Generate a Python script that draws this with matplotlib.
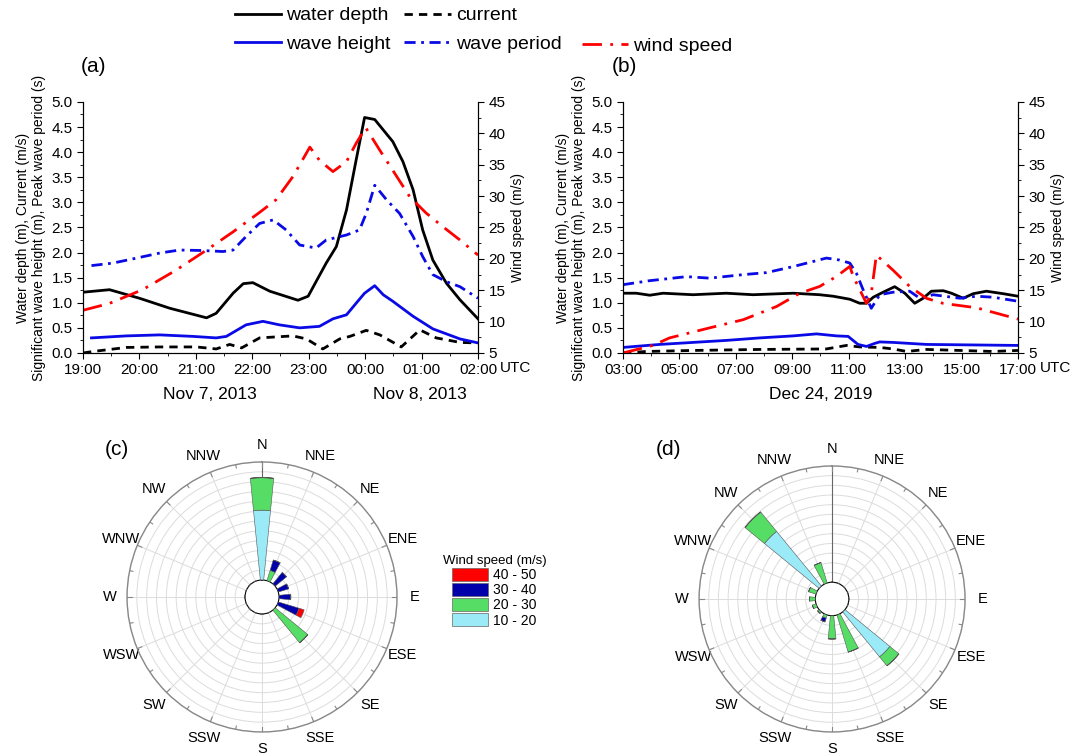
import numpy as np
import matplotlib.pyplot as plt
from matplotlib.patches import Patch
from matplotlib.lines import Line2D

plt.rcParams['font.family'] = ['Liberation Sans', 'DejaVu Sans']

# ---- panel (a): Nov 7-8 2013, hours after 19:00 ----
a_ticks = ['19:00', '20:00', '21:00', '22:00', '23:00', '00:00', '01:00', '02:00']
a_depth_t = [0, 0.47, 1.0, 1.54, 2.19, 2.36, 2.66, 2.84, 3.01, 3.31, 3.81, 3.99, 4.13, 4.31, 4.49,
             4.67, 4.84, 4.99, 5.17, 5.49, 5.67, 5.85, 6.02, 6.20, 6.44, 6.68, 7.0]
a_depth = [1.21, 1.26, 1.09, 0.89, 0.70, 0.79, 1.19, 1.38, 1.40, 1.23, 1.05, 1.13, 1.42, 1.79, 2.12,
           2.85, 3.84, 4.69, 4.65, 4.21, 3.81, 3.25, 2.45, 1.85, 1.39, 1.06, 0.68]
a_cur_t = [0, 0.18, 0.77, 1.36, 2.01, 2.36, 2.60, 2.81, 3.13, 3.72, 3.96, 4.25, 4.55, 4.73, 5.02,
           5.26, 5.64, 5.97, 6.26, 6.68, 6.97]
a_cur = [0.0, 0.03, 0.11, 0.12, 0.12, 0.08, 0.17, 0.10, 0.30, 0.34, 0.28, 0.08, 0.28, 0.33, 0.45,
         0.36, 0.12, 0.46, 0.30, 0.21, 0.20]
a_hs_t = [0.15, 0.77, 1.36, 1.95, 2.36, 2.54, 2.89, 3.19, 3.48, 3.84, 4.19, 4.43, 4.67, 4.84, 4.99,
          5.17, 5.32, 5.49, 5.85, 6.20, 6.68, 7.0]
a_hs = [0.30, 0.34, 0.36, 0.33, 0.30, 0.33, 0.56, 0.63, 0.56, 0.50, 0.53, 0.68, 0.76, 0.99, 1.19,
        1.34, 1.16, 1.03, 0.73, 0.48, 0.28, 0.20]
a_tp_t = [0.15, 0.53, 0.95, 1.36, 1.71, 2.13, 2.48, 2.66, 2.89, 3.13, 3.37, 3.60, 3.84, 4.13, 4.31,
          4.67, 4.90, 5.02, 5.17, 5.38, 5.61, 5.85, 6.02, 6.20, 6.44, 6.68, 7.0]
a_tp = [1.74, 1.79, 1.89, 1.99, 2.05, 2.04, 2.02, 2.05, 2.32, 2.58, 2.65, 2.45, 2.15, 2.09, 2.25,
        2.35, 2.45, 2.78, 3.34, 3.05, 2.78, 2.32, 1.92, 1.56, 1.42, 1.32, 1.09]
a_wind_t = [0, 0.47, 1.06, 1.65, 2.19, 2.66, 3.13, 3.42, 3.72, 4.02, 4.19, 4.43, 4.67, 4.84, 5.01,
            5.26, 5.49, 5.79, 6.08, 6.38, 6.68, 7.0]
a_wind = [11.8, 12.9, 15.1, 18.2, 21.4, 24.3, 27.4, 29.4, 33.1, 37.8, 35.7, 33.9, 35.5, 38.4, 40.9,
          37.3, 34.1, 29.9, 27.3, 25.1, 23.0, 20.6]

# ---- panel (b): Dec 24 2019, hours after 03:00 ----
b_ticks = ['03:00', '05:00', '07:00', '09:00', '11:00', '13:00', '15:00', '17:00']
b_depth_t = [0, 0.47, 0.95, 1.42, 2.48, 3.66, 4.61, 6.03, 6.97, 7.45, 8.04, 8.39, 8.63, 8.87, 9.22,
             9.63, 9.99, 10.34, 10.64, 10.93, 11.35, 11.64, 12.06, 12.41, 12.88, 13.48, 14.0]
b_depth = [1.19, 1.19, 1.15, 1.19, 1.16, 1.19, 1.16, 1.19, 1.16, 1.13, 1.07, 0.99, 0.99, 1.11, 1.21,
           1.32, 1.19, 0.99, 1.09, 1.23, 1.24, 1.19, 1.09, 1.18, 1.23, 1.18, 1.13]
b_cur_t = [0, 0.83, 2.48, 4.85, 7.21, 7.92, 8.39, 9.10, 9.57, 10.05, 10.76, 11.94, 13.12, 14.0]
b_cur = [0.0, 0.03, 0.05, 0.07, 0.08, 0.15, 0.12, 0.11, 0.08, 0.03, 0.07, 0.05, 0.03, 0.05]
b_hs_t = [0, 1.30, 2.48, 3.66, 4.85, 6.03, 6.86, 7.57, 7.98, 8.33, 8.63, 8.92, 9.10, 9.57, 10.76, 14.0]
b_hs = [0.11, 0.17, 0.21, 0.25, 0.30, 0.34, 0.38, 0.34, 0.33, 0.17, 0.13, 0.19, 0.22, 0.21, 0.17, 0.15]
b_tp_t = [0, 0.95, 2.25, 3.07, 4.26, 5.08, 6.03, 7.21, 7.68, 8.04, 8.27, 8.51, 8.80, 9.10, 9.57,
          10.16, 10.52, 10.99, 11.94, 12.53, 13.12, 14.0]
b_tp = [1.36, 1.44, 1.52, 1.49, 1.56, 1.60, 1.72, 1.89, 1.85, 1.79, 1.59, 1.26, 0.89, 1.16, 1.21,
        1.23, 1.09, 1.16, 1.09, 1.13, 1.11, 1.03]
b_wind_t = [0, 1.06, 1.65, 3.07, 4.26, 5.44, 6.26, 6.97, 7.57, 8.04, 8.16, 8.39, 8.63, 8.80, 8.98,
            9.57, 10.16, 10.76, 11.35, 12.53, 14.0]
b_wind = [5.0, 6.2, 7.4, 9.0, 10.3, 12.4, 14.5, 15.6, 17.2, 18.8, 17.2, 15.1, 12.9, 14.5, 20.6,
          18.2, 15.6, 13.7, 12.9, 12.2, 10.4]

# ---- wind roses ----
dirs = ['N', 'NNE', 'NE', 'ENE', 'E', 'ESE', 'SE', 'SSE',
        'S', 'SSW', 'SW', 'WSW', 'W', 'WNW', 'NW', 'NNW']
speed_classes = ['10 - 20', '20 - 30', '30 - 40', '40 - 50']
class_colors = ['#9beaf8', '#55dd66', '#0000aa', '#ff0000']
c_10_20 = [7.1, 0, 0, 0, 0, 0, 0, 0, 0, 0, 0, 0, 0, 0, 0, 0]
c_20_30 = [3.3, 1.1, 0, 0, 0, 0, 4.3, 0, 0, 0, 0, 0, 0, 0, 0, 0]
c_30_40 = [0, 1.1, 1.5, 1.1, 1.2, 2.2, 0, 0, 0, 0, 0, 0, 0, 0, 0, 0]
c_40_50 = [0, 0, 0, 0, 0, 0.55, 0, 0, 0, 0, 0, 0, 0, 0, 0, 0]
d_10_20 = [0, 0, 0, 0, 0, 0, 6.0, 0, 0, 0, 0, 0, 0, 0, 7.3, 0]
d_20_30 = [0, 0, 0, 0, 0, 0, 1.2, 4.0, 2.4, 0.35, 0.2, 0.4, 0.6, 0.8, 2.6, 2.2]
d_30_40 = [0, 0, 0, 0, 0, 0, 0, 0, 0, 0.4, 0, 0, 0, 0, 0, 0]
d_40_50 = [0] * 16

fig = plt.figure(figsize=(10.71, 7.55), dpi=100)

BLUE = '#0a0ae6'
RED = '#ff0000'
LS_CUR = (0, (3, 2.2))
LS_TP = (0, (4, 2, 1, 2))
LS_WIND = (0, (7, 3, 1, 3))


def line_panel(pos, d, ticks, step, nhours, minor_step):
    ax = fig.add_axes(pos)
    ax.plot(d[0], d[1], color='black', lw=2)
    ax.plot(d[2], d[3], color='black', lw=2, ls=LS_CUR)
    ax.plot(d[4], d[5], color=BLUE, lw=2)
    ax.plot(d[6], d[7], color=BLUE, lw=2, ls=LS_TP)
    ax.set_xlim(0, nhours)
    ax.set_ylim(0, 5)
    ax.set_xticks(np.arange(0, nhours + 0.01, step))
    ax.set_xticklabels(ticks)
    ax.set_xticks(np.arange(0, nhours + 0.01, minor_step), minor=True)
    ax.set_yticks(np.arange(0, 5.01, 0.5))
    ax.set_yticks(np.arange(0, 5.01, 0.25), minor=True)
    ax.yaxis.set_major_formatter(plt.FormatStrFormatter('%.1f'))
    ax.spines['top'].set_visible(False)
    ax.tick_params(labelsize=11, length=4, width=0.8)
    ax.tick_params(which='minor', length=2.5)
    ax.set_ylabel('Water depth (m), Current (m/s)\nSignificant wave height (m), Peak wave period (s)',
                  fontsize=10, labelpad=4)
    ax2 = ax.twinx()
    ax2.plot(d[8], d[9], color=RED, lw=2, ls=LS_WIND)
    ax2.set_ylim(5, 45)
    ax2.set_yticks(np.arange(5, 46, 5))
    ax2.set_yticks(np.arange(5, 46, 2.5), minor=True)
    ax2.spines['top'].set_visible(False)
    ax2.tick_params(labelsize=11, length=4, width=0.8)
    ax2.tick_params(which='minor', length=2.5)
    ax2.set_ylabel('Wind speed (m/s)', fontsize=10, labelpad=4)
    ax.annotate('UTC', xy=(1, 0), xycoords='axes fraction', xytext=(16, -6),
                textcoords='offset points', ha='left', va='top', fontsize=11)
    return ax


axa = line_panel([0.0775, 0.5325, 0.3688, 0.3325],
                 [a_depth_t, a_depth, a_cur_t, a_cur, a_hs_t, a_hs, a_tp_t, a_tp, a_wind_t, a_wind],
                 a_ticks, 1, 7, 0.5)
axb = line_panel([0.5817, 0.5325, 0.3688, 0.3325],
                 [b_depth_t, b_depth, b_cur_t, b_cur, b_hs_t, b_hs, b_tp_t, b_tp, b_wind_t, b_wind],
                 b_ticks, 2, 14, 1)

fig.text(0.075, 0.905, '(a)', fontsize=15)
fig.text(0.571, 0.905, '(b)', fontsize=15)
fig.text(0.196, 0.472, 'Nov 7, 2013', fontsize=12.5, ha='center')
fig.text(0.392, 0.472, 'Nov 8, 2013', fontsize=12.5, ha='center')
fig.text(0.766, 0.472, 'Dec 24, 2019', fontsize=12.5, ha='center')
fig.text(0.098, 0.397, '(c)', fontsize=15)
fig.text(0.612, 0.397, '(d)', fontsize=15)

# top legend (two pieces)
h = [Line2D([], [], color='black', lw=2),
     Line2D([], [], color=BLUE, lw=2),
     Line2D([], [], color='black', lw=2, ls=LS_CUR),
     Line2D([], [], color=BLUE, lw=2, ls=LS_TP)]
lab = ['water depth', 'wave height', 'current', 'wave period']
fig.legend(h, lab, ncol=2, loc='upper left', bbox_to_anchor=(0.219, 0.991), frameon=False,
           fontsize=14, handlelength=2.4, handletextpad=0.25, columnspacing=0.7,
           labelspacing=0.55, borderaxespad=0, borderpad=0)
fig.legend([Line2D([], [], color=RED, lw=2, ls=LS_WIND)], ['wind speed'], loc='upper left',
           bbox_to_anchor=(0.543, 0.951), frameon=False, fontsize=14, handlelength=2.4,
           handletextpad=0.25, borderaxespad=0, borderpad=0)

# wind roses
theta = np.deg2rad(np.arange(16) * 22.5)
width = np.deg2rad(11.25)
RMAX = 12


def rose(pos, classes):
    ax = fig.add_axes(pos, projection='polar')
    ax.set_theta_zero_location('N')
    ax.set_theta_direction(-1)
    ax.set_rorigin(-1.73)
    ax.set_ylim(0, RMAX)
    ax.set_rgrids(np.arange(1, RMAX + 1), labels=[])
    ax.set_thetagrids(np.arange(0, 360, 22.5), labels=dirs, fontsize=10.5)
    ax.tick_params(axis='x', pad=2)
    ax.grid(color='#dcdcdc', lw=0.7)
    ax.spines['polar'].set_color('#888888')
    ax.spines['polar'].set_linewidth(1.0)
    ax.spines['inner'].set_visible(False)
    ax.plot([0, 0], [0, RMAX], color='#666666', lw=0.8)
    for t in np.deg2rad(np.arange(11.25, 360, 22.5)):
        ax.plot([t, t], [RMAX - 0.35, RMAX], color='#888888', lw=0.8)
    for t in theta:
        ax.plot([t, t], [RMAX - 0.5, RMAX], color='#888888', lw=0.8)
    bottom = np.zeros(16)
    for vals, col in zip(classes, class_colors):
        vals = np.array(vals, dtype=float)
        ax.bar(theta, vals, width=width, bottom=bottom, color=col,
               edgecolor='#555555', lw=0.4, zorder=3)
        bottom = bottom + vals
    return ax


rose([0.1186, 0.0305, 0.2521, 0.3576], [c_10_20, c_20_30, c_30_40, c_40_50])
rose([0.6527, 0.0305, 0.2484, 0.3523], [d_10_20, d_20_30, d_30_40, d_40_50])

ph = [Patch(facecolor=c, edgecolor='#666666', lw=0.5) for c in class_colors[::-1]]
fig.legend(ph, speed_classes[::-1], title='Wind speed (m/s)', loc='upper left',
           bbox_to_anchor=(0.408, 0.272), frameon=False, fontsize=10, title_fontsize=9.5,
           handlelength=2.6, handleheight=1.1, handletextpad=0.4, labelspacing=0.05,
           borderaxespad=0)

fig.savefig('out.png', dpi=100)
